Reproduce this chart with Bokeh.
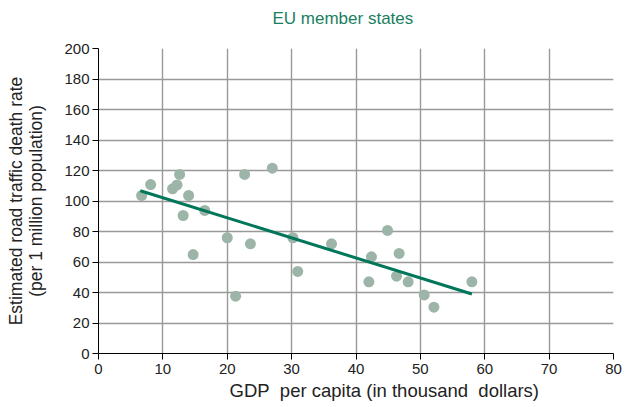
from bokeh.plotting import figure
from bokeh.models import FixedTicker, Range1d, Title
from bokeh.embed import file_html
from bokeh.resources import INLINE

gdp = [6.7, 8.1, 11.5, 12.2, 12.6, 13.15, 14.0, 14.7, 16.5, 20.0, 21.3, 22.7,
       23.6, 27.0, 30.2, 30.95, 36.2, 42.0, 42.4, 44.9, 46.3, 46.7, 48.1, 50.6,
       52.1, 58.0]
death_rate = [103.6, 110.8, 108.0, 110.5, 117.4, 90.5, 103.6, 64.9, 93.8, 75.9,
              37.6, 117.4, 71.9, 121.5, 75.9, 53.8, 71.9, 47.0, 63.4, 80.7,
              50.7, 65.6, 47.0, 38.4, 30.4, 47.0]
trend_x = [6.5, 58.0]
trend_y = [106.7, 39.0]
x_ticks = [0, 10, 20, 30, 40, 50, 60, 70, 80]
y_ticks = [0, 20, 40, 60, 80, 100, 120, 140, 160, 180, 200]
title_text = "EU member states"
x_label = "GDP\u00a0 per capita (in thousand\u00a0 dollars)"
y_label = "Estimated road traffic death rate\n(per 1 million population)"

FONT = "Liberation Sans"

p = figure(width=626, height=407, output_backend="svg", toolbar_location=None,
           title=None,
           x_range=Range1d(0, 80), y_range=Range1d(0, 200),
           min_border_left=98, min_border_right=13, min_border_top=48,
           min_border_bottom=54)
p.outline_line_color = None

# spacer between frame and title (nearest the frame)
p.add_layout(Title(text="\u00a0", text_font=FONT, text_font_size="12px",
                   standoff=0), "above")
p.add_layout(Title(text=title_text, text_color="#1a8060", text_font=FONT,
                   text_font_size="17px", text_font_style="normal",
                   align="left", offset=174), "above")

p.add_layout(Title(text=x_label, text_font=FONT, text_font_size="18.5px",
                   text_font_style="normal", text_color="#222222",
                   align="left", offset=131, standoff=2), "below")

p.xaxis.ticker = FixedTicker(ticks=x_ticks)
p.yaxis.ticker = FixedTicker(ticks=y_ticks)
for ax in (p.xaxis, p.yaxis):
    ax.minor_tick_line_color = None
    ax.major_tick_in = 0
    ax.major_tick_out = 6
    ax.axis_line_color = "black"
    ax.major_tick_line_color = "black"
    ax.major_label_text_font = FONT
    ax.major_label_text_font_size = "15px"
    ax.major_label_text_color = "#222222"
p.xaxis.major_label_standoff = 4
p.yaxis.major_label_standoff = 3

p.yaxis.axis_label = y_label
p.yaxis.axis_label_text_font = FONT
p.yaxis.axis_label_text_font_size = "17.5px"
p.yaxis.axis_label_text_font_style = "normal"
p.yaxis.axis_label_text_color = "#222222"
p.yaxis.axis_label_text_line_height = 1.0
p.yaxis.axis_label_standoff = 15

p.grid.grid_line_color = "#999999"
p.grid.grid_line_width = 1.4

p.scatter(gdp, death_rate, size=11, fill_color="#9db5a8", line_color=None)
p.line(trend_x, trend_y, line_color="#00775a", line_width=3)

open("out.html", "w").write(file_html(p, INLINE))
